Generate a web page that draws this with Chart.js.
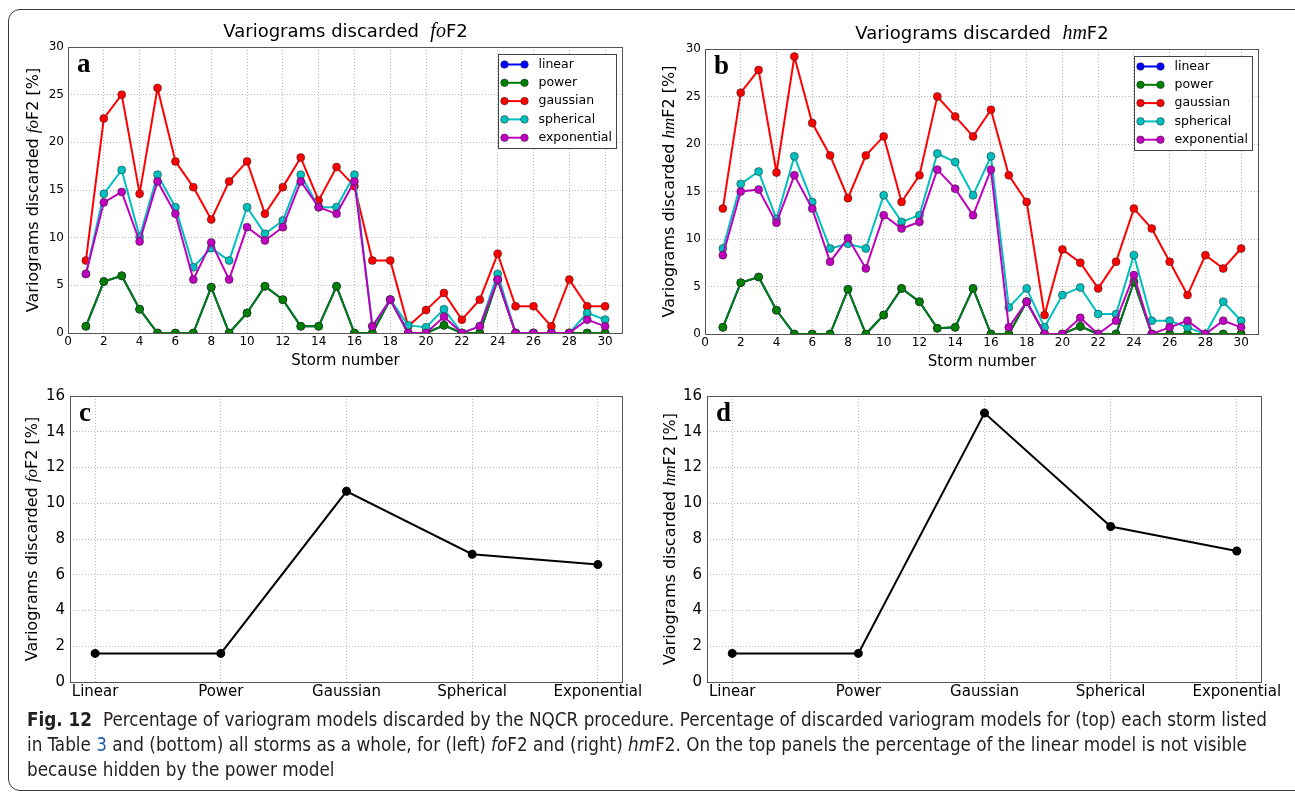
<!DOCTYPE html>
<html>
<head>
<meta charset="utf-8">
<script src="https://cdn.jsdelivr.net/npm/chart.js@4.4.1/dist/chart.umd.min.js"></script>
<style>
  body { margin: 0; width: 1295px; height: 793px; background: #fff; position: relative; overflow: hidden; }
  .frame { position: absolute; left: 8px; top: 9px; width: 1300px; height: 780px; border: 1px solid #3a3a3a; border-radius: 12px; }
  canvas { position: absolute; }
  #caption {
    position: absolute; left: 27px; top: 707px; white-space: nowrap;
    font-family: "Liberation Sans Narrow", "DejaVu Sans Condensed", "Roboto", sans-serif;
    font-size: 20px; line-height: 25px; color: #231f20; transform-origin: 0 0;
  }
  #caption b { font-weight: bold; margin-right: 6px; }
  #caption .ref { color: #1f5fa8; }
</style>
</head>
<body>
<div class="frame"></div>
<canvas id="panelA" width="650" height="380" style="left:0;top:0"></canvas>
<canvas id="panelB" width="655" height="380" style="left:640px;top:0"></canvas>
<canvas id="panelC" width="650" height="330" style="left:0;top:380px"></canvas>
<canvas id="panelD" width="655" height="330" style="left:640px;top:380px"></canvas>
<div id="caption"><span id="line1"><b>Fig. 12</b> Percentage of variogram models discarded by the NQCR procedure. Percentage of discarded variogram models for (top) each storm listed</span><br>in Table <span class="ref">3</span> and (bottom) all storms as a whole, for (left) <i>fo</i>F2 and (right) <i>hm</i>F2. On the top panels the percentage of the linear model is not visible<br>because hidden by the power model</div>
<script>
// storm-by-storm percentages (top panels)
const stormNumbers = [1, 2, 3, 4, 5, 6, 7, 8, 9, 10, 11, 12, 13, 14, 15, 16, 17, 18, 19, 20, 21, 22, 23, 24, 25, 26, 27, 28, 29, 30];
const stormTicks = [0, 2, 4, 6, 8, 10, 12, 14, 16, 18, 20, 22, 24, 26, 28, 30];

const foLinear      = [0.7, 5.4, 6.0, 2.5, 0, 0, 0, 4.8, 0, 2.1, 4.9, 3.5, 0.7, 0.7, 4.9, 0, 0, 3.5, 0, 0, 0.8, 0, 0, 5.6, 0, 0, 0, 0, 0, 0];
const foPower       = [0.7, 5.4, 6.0, 2.5, 0, 0, 0, 4.8, 0, 2.1, 4.9, 3.5, 0.7, 0.7, 4.9, 0, 0, 3.5, 0, 0, 0.8, 0, 0, 5.6, 0, 0, 0, 0, 0, 0];
const foGaussian    = [7.6, 22.5, 25.0, 14.6, 25.7, 18.0, 15.3, 11.9, 15.9, 18.0, 12.5, 15.3, 18.4, 13.9, 17.4, 15.4, 7.6, 7.6, 0.7, 2.4, 4.2, 1.4, 3.5, 8.3, 2.8, 2.8, 0.7, 5.6, 2.8, 2.8];
const foSpherical   = [6.2, 14.6, 17.1, 10.1, 16.6, 13.2, 6.9, 8.9, 7.6, 13.2, 10.4, 11.8, 16.6, 13.2, 13.2, 16.6, 0.7, 3.5, 0.8, 0.6, 2.5, 0, 0.7, 6.2, 0, 0, 0, 0, 2.1, 1.4];
const foExponential = [6.2, 13.7, 14.8, 9.6, 15.9, 12.5, 5.6, 9.5, 5.6, 11.1, 9.7, 11.1, 15.9, 13.2, 12.5, 15.9, 0.7, 3.5, 0, 0, 1.7, 0, 0.7, 5.6, 0, 0, 0, 0, 1.4, 0.7];

const hmLinear      = [0.7, 5.4, 6.0, 2.5, 0, 0, 0, 4.7, 0, 2.0, 4.8, 3.4, 0.6, 0.7, 4.8, 0, 0, 3.4, 0, 0, 0.8, 0, 0, 5.5, 0, 0, 0, 0, 0, 0];
const hmPower       = [0.7, 5.4, 6.0, 2.5, 0, 0, 0, 4.7, 0, 2.0, 4.8, 3.4, 0.6, 0.7, 4.8, 0, 0, 3.4, 0, 0, 0.8, 0, 0, 5.5, 0, 0, 0, 0, 0, 0];
const hmGaussian    = [13.2, 25.4, 27.8, 17.0, 29.2, 22.2, 18.8, 14.3, 18.8, 20.8, 13.9, 16.7, 25.0, 22.9, 20.8, 23.6, 16.7, 13.9, 2.0, 8.9, 7.5, 4.8, 7.6, 13.2, 11.1, 7.6, 4.1, 8.3, 6.9, 9.0];
const hmSpherical   = [9.0, 15.8, 17.1, 12.1, 18.7, 13.9, 9.0, 9.5, 9.0, 14.6, 11.8, 12.5, 19.0, 18.1, 14.6, 18.7, 2.8, 4.8, 0.7, 4.1, 4.9, 2.1, 2.1, 8.3, 1.4, 1.4, 0.7, 0, 3.4, 1.4];
const hmExponential = [8.3, 15.0, 15.2, 11.7, 16.7, 13.2, 7.6, 10.1, 6.9, 12.5, 11.1, 11.8, 17.3, 15.3, 12.5, 17.3, 0.7, 3.4, 0, 0, 1.7, 0, 1.4, 6.2, 0, 0.7, 1.4, 0, 1.4, 0.7];

// all storms together (bottom panels)
const modelNames = ['Linear', 'Power', 'Gaussian', 'Spherical', 'Exponential'];
const foTotal = [1.6, 1.6, 10.67, 7.15, 6.57];
const hmTotal = [1.6, 1.6, 15.05, 8.7, 7.33];

const SANS = '"DejaVu Sans", sans-serif';
const MATH = '"Liberation Serif", "DejaVu Serif", serif';
const GRID = { color: 'rgba(0,0,0,0.35)', lineWidth: 0.8, drawTicks: false };
const BORDER = { display: false, dash: [1, 2] };

// text made of runs with different fonts (for the italic fo / hm)
function drawRuns(ctx, runs, x, y) {
  let total = 0;
  runs.forEach(r => { ctx.font = r.font; total += ctx.measureText(r.text).width; });
  let cx = x - total / 2;
  ctx.textAlign = 'left';
  ctx.textBaseline = 'middle';
  runs.forEach(r => {
    ctx.font = r.font;
    ctx.fillText(r.text, cx, y);
    cx += ctx.measureText(r.text).width;
  });
}

const panelText = {
  id: 'panelText',
  afterDraw(chart, args, o) {
    const { ctx, chartArea: a } = chart;
    ctx.save();
    ctx.fillStyle = '#000';

    ctx.strokeStyle = '#555';
    ctx.lineWidth = 1;
    ctx.strokeRect(Math.round(a.left) + 0.5, Math.round(a.top) + 0.5, Math.round(a.width) - 1, Math.round(a.height));

    if (o.title) drawRuns(ctx, o.title, (a.left + a.right) / 2, a.top - 15);
    if (o.xlabel) drawRuns(ctx, [{ text: o.xlabel, font: '15px ' + SANS }], (a.left + a.right) / 2, a.bottom + 28);
    if (o.ylabel) {
      ctx.save();
      ctx.translate(o.ylabelX, (a.top + a.bottom) / 2);
      ctx.rotate(-Math.PI / 2);
      drawRuns(ctx, o.ylabel, 0, 0);
      ctx.restore();
    }
    if (o.letter) {
      ctx.font = 'bold 27px ' + MATH;
      ctx.textAlign = 'left';
      ctx.textBaseline = 'alphabetic';
      ctx.fillText(o.letter, a.left + 9, a.top + 25);
    }

    if (o.legend) {
      const w = 118, h = 94;
      const bx = Math.round(a.right - 7 - w) + 0.5, by = Math.round(a.top + 7) + 0.5;
      ctx.fillStyle = '#fff';
      ctx.fillRect(bx, by, w, h);
      ctx.strokeStyle = '#444';
      ctx.strokeRect(bx, by, w, h);
      chart.data.datasets.forEach((ds, i) => {
        const y = by + 10 + i * 18.3;
        ctx.strokeStyle = ds.borderColor;
        ctx.lineWidth = 2;
        ctx.beginPath();
        ctx.moveTo(bx + 6, y);
        ctx.lineTo(bx + 26, y);
        ctx.stroke();
        [bx + 6, bx + 26].forEach(px => {
          ctx.beginPath();
          ctx.arc(px, y, 3.8, 0, Math.PI * 2);
          ctx.fillStyle = ds.borderColor;
          ctx.fill();
          ctx.lineWidth = 0.5;
          ctx.strokeStyle = '#222';
          ctx.stroke();
        });
        ctx.fillStyle = '#000';
        ctx.font = '12.5px ' + SANS;
        ctx.textAlign = 'left';
        ctx.textBaseline = 'middle';
        ctx.fillText(ds.label, bx + 40, y);
      });
    }
    ctx.restore();
  }
};
Chart.register(panelText);

const italicRuns = (before, mathText, after, size, mathSize) => [
  { text: before, font: size + 'px ' + SANS },
  { text: mathText, font: 'italic ' + mathSize + 'px ' + MATH },
  { text: after, font: size + 'px ' + SANS }
];

const toPoints = (xs, ys) => ys.map((v, i) => ({ x: xs[i], y: v }));

const stormSeries = (label, color, values, order) => ({
  label,
  data: toPoints(stormNumbers, values),
  borderColor: color,
  backgroundColor: color,
  borderWidth: 2,
  pointRadius: 4,
  pointBorderWidth: 0.5,
  pointBorderColor: '#222',
  pointBackgroundColor: color,
  clip: 0,
  order
});

function stormChart(id, area, sets, param) {
  return new Chart(document.getElementById(id), {
    type: 'line',
    data: {
      datasets: [
        stormSeries('linear', '#0000ff', sets[0], 5),
        stormSeries('power', '#008000', sets[1], 4),
        stormSeries('gaussian', '#ff0000', sets[2], 3),
        stormSeries('spherical', '#00bfbf', sets[3], 2),
        stormSeries('exponential', '#bf00bf', sets[4], 1)
      ]
    },
    options: {
      responsive: false,
      animation: false,
      events: [],
      layout: { padding: { top: area.top, right: area.right, left: 0, bottom: 0 } },
      plugins: {
        legend: { display: false },
        tooltip: { enabled: false },
        panelText: {
          title: italicRuns('Variograms discarded  ', param, 'F2', 18, 20),
          xlabel: 'Storm number',
          ylabel: italicRuns('Variograms discarded ', param, 'F2 [%]', 16, 17),
          ylabelX: area.ylabelX,
          letter: area.letter,
          legend: true
        }
      },
      scales: {
        x: {
          type: 'linear', min: 0, max: 31,
          afterBuildTicks: s => { s.ticks = stormTicks.map(v => ({ value: v })); },
          afterFit: s => { s.height = area.xh; },
          ticks: { color: '#000', font: { family: SANS, size: 12 }, padding: 2, maxRotation: 0, autoSkip: false },
          grid: GRID, border: BORDER
        },
        y: {
          min: 0, max: 30,
          afterFit: s => { s.width = area.yw; },
          ticks: { stepSize: 5, color: '#000', font: { family: SANS, size: 12 }, padding: 4 },
          grid: GRID, border: BORDER
        }
      }
    }
  });
}

function totalChart(id, area, values, param) {
  return new Chart(document.getElementById(id), {
    type: 'line',
    data: {
      datasets: [{
        data: toPoints(modelNames.map((_, i) => i), values),
        borderColor: '#000',
        backgroundColor: '#000',
        borderWidth: 2,
        pointRadius: 3.5,
        pointBackgroundColor: '#000'
      }]
    },
    options: {
      responsive: false,
      animation: false,
      events: [],
      layout: { padding: { top: area.top, right: area.right, left: 0, bottom: 0 } },
      plugins: {
        legend: { display: false },
        tooltip: { enabled: false },
        panelText: {
          ylabel: italicRuns('Variograms discarded ', param, 'F2 [%]', 16, 17),
          ylabelX: area.ylabelX,
          letter: area.letter
        }
      },
      scales: {
        x: {
          type: 'linear', min: -0.2, max: 4.2,
          afterBuildTicks: s => { s.ticks = modelNames.map((_, i) => ({ value: i })); },
          afterFit: s => { s.height = area.xh; },
          ticks: { callback: v => modelNames[v], color: '#000', font: { family: SANS, size: 15 }, padding: 1, maxRotation: 0, autoSkip: false },
          grid: GRID, border: BORDER
        },
        y: {
          min: 0, max: 16,
          afterFit: s => { s.width = area.yw; },
          ticks: { stepSize: 2, color: '#000', font: { family: SANS, size: 15 }, padding: 5 },
          grid: GRID, border: BORDER
        }
      }
    }
  });
}

stormChart('panelA', { top: 47, right: 27, xh: 47, yw: 68, ylabelX: 34, letter: 'a' },
  [foLinear, foPower, foGaussian, foSpherical, foExponential], 'fo');
stormChart('panelB', { top: 49, right: 36, xh: 46, yw: 65, ylabelX: 30, letter: 'b' },
  [hmLinear, hmPower, hmGaussian, hmSpherical, hmExponential], 'hm');
totalChart('panelC', { top: 16, right: 27, xh: 28, yw: 70, ylabelX: 33, letter: 'c' }, foTotal, 'fo');
totalChart('panelD', { top: 16, right: 33, xh: 28, yw: 67, ylabelX: 31, letter: 'd' }, hmTotal, 'hm');

// squeeze the caption so its first line spans the figure width
const cap = document.getElementById('caption');
const w1 = document.getElementById('line1').getBoundingClientRect().width;
cap.style.transform = 'scaleX(' + (1240 / w1) + ')';
</script>
</body>
</html>
